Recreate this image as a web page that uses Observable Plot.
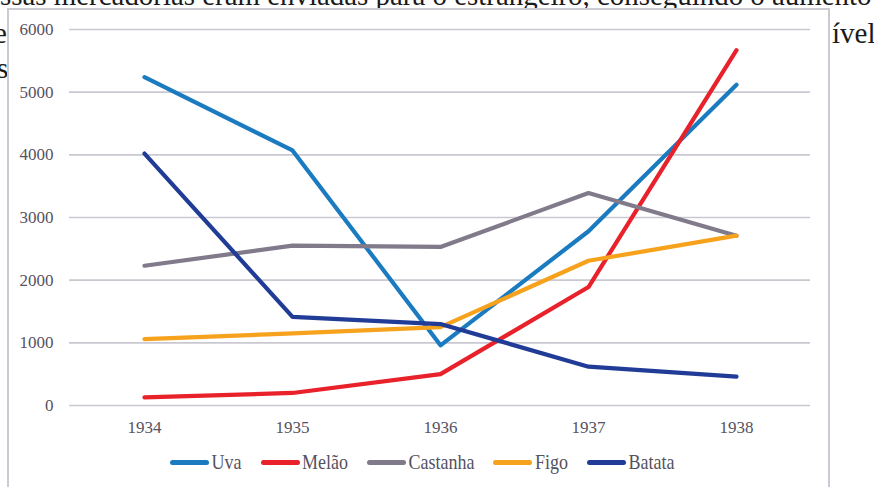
<!DOCTYPE html>
<html>
<head>
<meta charset="utf-8">
<script src="https://cdn.jsdelivr.net/npm/d3@7"></script>
<script src="https://cdn.jsdelivr.net/npm/@observablehq/plot@0.6"></script>
<style>
  html, body { margin: 0; padding: 0; background: #fff; overflow: hidden; }
  body { width: 874px; height: 487px; position: relative; font-family: "Liberation Serif", serif; }
  .bg { position: absolute; font-family: "Liberation Serif", serif; font-size: 29px; line-height: 29px; color: #1a1a1a; white-space: nowrap; transform-origin: 0 0; }
  #box { position: absolute; left: 7px; top: 8px; width: 819px; height: 490px; border: 2px solid #cbcbd3; background: #fff; }
  #chart { position: absolute; left: 0; top: 0; }
  #chart svg, #chart svg text { font-family: "Liberation Serif", serif !important; }
  #legend { position: absolute; left: 161px; top: 442px; display: flex; align-items: center; font-family: "Liberation Serif", serif; font-size: 18px; color: #55515f; }
  .item { display: flex; align-items: center; margin-right: 19px; }
  .item span { display: inline-block; transform: scaleY(1.15); }
  .sw { width: 39px; height: 4.5px; border-radius: 2.5px; margin-right: 2.5px; }
</style>
</head>
<body>
<div class="bg" id="l1" style="left:0; top:-19px;">ssas mercadorias eram enviadas para o estrangeiro, conseguindo o aumento</div>
<div class="bg" style="left:-6px; top:19px;">e</div>
<div class="bg" style="left:832px; top:19px;">ível</div>
<div class="bg" style="left:-3px; top:54px;">s</div>
<div id="box">
  <div id="chart"></div>
  <div id="legend"></div>
</div>
<script>
const years = ["1934", "1935", "1936", "1937", "1938"];
const seriesNames = ["Uva", "Melão", "Castanha", "Figo", "Batata"];
const uva = [5240, 4070, 960, 2780, 5120];
const melao = [130, 200, 500, 1890, 5670];
const castanha = [2230, 2550, 2530, 3390, 2710];
const figo = [1060, 1150, 1250, 2310, 2710];
const batata = [4020, 1415, 1300, 620, 460];
const yTicks = [0, 1000, 2000, 3000, 4000, 5000, 6000];
const colors = ["#1b7bc1", "#e8212b", "#807a8b", "#f7a21c", "#213c97"];

const seriesValues = [uva, melao, castanha, figo, batata];
const data = [];
seriesNames.forEach((s, i) => years.forEach((y, j) => data.push({series: s, year: y, value: seriesValues[i][j]})));

const l1 = document.getElementById("l1");
l1.style.transform = `scaleX(${872 / l1.scrollWidth})`;

const plot = Plot.plot({
  width: 819,
  height: 430,
  marginLeft: 60,
  marginRight: 18,
  marginTop: 19,
  marginBottom: 35,
  style: {fontFamily: "'Liberation Serif', serif", fontSize: "17px", background: "transparent"},
  x: {type: "point", domain: years, padding: 0.5, label: null},
  y: {domain: [0, 6000], ticks: yTicks, label: null},
  color: {domain: seriesNames, range: colors},
  marks: [
    Plot.ruleY(yTicks, {stroke: "#cac8d0", strokeWidth: 1.6}),
    Plot.axisY({ticks: yTicks, tickSize: 0, tickPadding: 16, tickFormat: d => String(d), label: null, fill: "#56525f", fontSize: 17}),
    Plot.axisX({tickSize: 0, tickPadding: 15, label: null, fill: "#56525f", fontSize: 17}),
    Plot.lineY(data, {x: "year", y: "value", z: "series", stroke: "series", strokeWidth: 4.2, strokeLinecap: "round", strokeLinejoin: "round"})
  ]
});
document.getElementById("chart").appendChild(plot);

const legend = document.getElementById("legend");
seriesNames.forEach((s, i) => {
  const it = document.createElement("div");
  it.className = "item";
  const sw = document.createElement("div");
  sw.className = "sw";
  sw.style.background = colors[i];
  const t = document.createElement("span");
  t.textContent = s;
  it.appendChild(sw);
  it.appendChild(t);
  legend.appendChild(it);
});
</script>
</body>
</html>
